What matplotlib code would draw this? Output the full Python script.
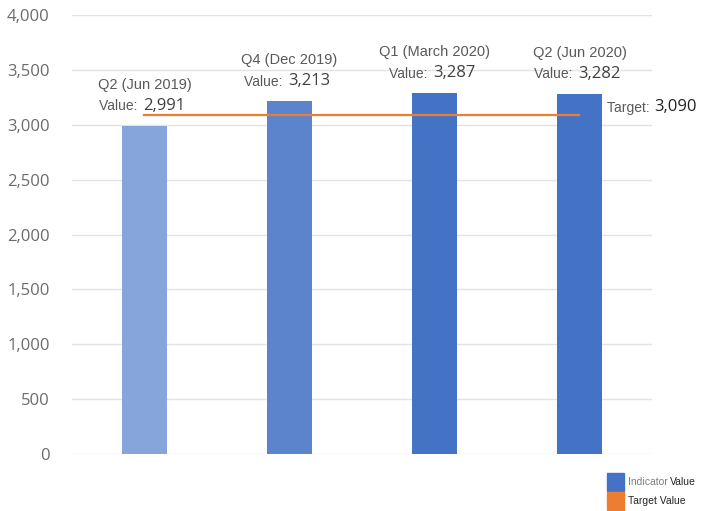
#! /usr/bin/env python
"""Indicator value per quarter against the target value."""

import matplotlib.pyplot as plt
from matplotlib.patches import Rectangle

# Chart data
quarters = ["Q2 (Jun 2019)", "Q4 (Dec 2019)", "Q1 (March 2020)", "Q2 (Jun 2020)"]
values = [2991, 3213, 3287, 3282]
target = 3090
bar_colors = ["#86a6db", "#5b84cd", "#4472c4", "#4472c4"]
yticks = [0, 500, 1000, 1500, 2000, 2500, 3000, 3500, 4000]

LABEL_GREY = "#595959"
NUM_GREY = "#3f3f3f"
BLUE = "#4472c4"
ORANGE = "#ed7d31"


def main():
    plt.rcParams["font.family"] = ["Open Sans", "DejaVu Sans"]
    sans = ["Liberation Sans", "DejaVu Sans"]

    fig = plt.figure(figsize=(7.05, 5.11), dpi=100)
    ax = fig.add_axes([0.1021, 0.1115, 0.8227, 0.8591])

    x = list(range(len(values)))
    ax.bar(x, values, width=0.31, color=bar_colors, zorder=2)

    # Target line runs between the first and last bar centres
    ax.plot([x[0], x[-1]], [target, target], color=ORANGE, lw=1.6, zorder=3)

    ax.set_xlim(-0.5, len(values) - 0.5)
    ax.set_ylim(0, 4000)
    ax.set_yticks(yticks)
    ax.set_yticklabels([f"{v:,}" for v in yticks])
    ax.set_xticks([])
    ax.tick_params(axis="y", length=0, pad=16, labelsize=12,
                   labelcolor="#6b6b6b")
    ax.grid(axis="y", color="#e3e3e3", lw=1, zorder=0)
    for s in ax.spines.values():
        s.set_visible(False)

    # Two-line annotation above each bar
    for xi, v, q in zip(x, values, quarters):
        ax.annotate(q, (xi, v), xytext=(0, 29.5), textcoords="offset points",
                    ha="center", va="center", fontsize=10.5, family=sans,
                    color=LABEL_GREY)
        ax.annotate("Value: ", (xi, v), xytext=(-2, 14),
                    textcoords="offset points", ha="right", va="center",
                    fontsize=10, family=sans, color=LABEL_GREY)
        ax.annotate(f"{v:,}", (xi, v), xytext=(-1, 14.5),
                    textcoords="offset points", ha="left", va="center",
                    fontsize=12, color=NUM_GREY)

    # Target label to the right of the line
    ax.annotate("Target: ", (x[-1], target), xytext=(20, 5),
                textcoords="offset points", ha="left", va="center",
                fontsize=10, family=sans, color=LABEL_GREY,
                annotation_clip=False)
    ax.annotate(f"{target:,}", (x[-1], target), xytext=(53.5, 5.5),
                textcoords="offset points", ha="left", va="center",
                fontsize=12, color="#222222", annotation_clip=False)

    # Small legend in the bottom right corner
    fig.add_artist(Rectangle((607 / 705, 1 - 491 / 511), 17 / 705, 18 / 511,
                             transform=fig.transFigure, color=BLUE))
    fig.add_artist(Rectangle((607 / 705, 1 - 510 / 511), 17 / 705, 18 / 511,
                             transform=fig.transFigure, color=ORANGE))
    fig.text(628 / 705, 1 - 482 / 511, "Indicator", fontsize=7.5,
             color="#7f7f7f", va="center", family=sans)
    fig.text(670 / 705, 1 - 482 / 511, "Value", fontsize=7.5,
             color="#262626", va="center", family=sans)
    fig.text(628 / 705, 1 - 501 / 511, "Target Value", fontsize=7.5,
             color="#262626", va="center", family=sans)

    fig.savefig("out.png", dpi=100)


if __name__ == "__main__":
    main()
